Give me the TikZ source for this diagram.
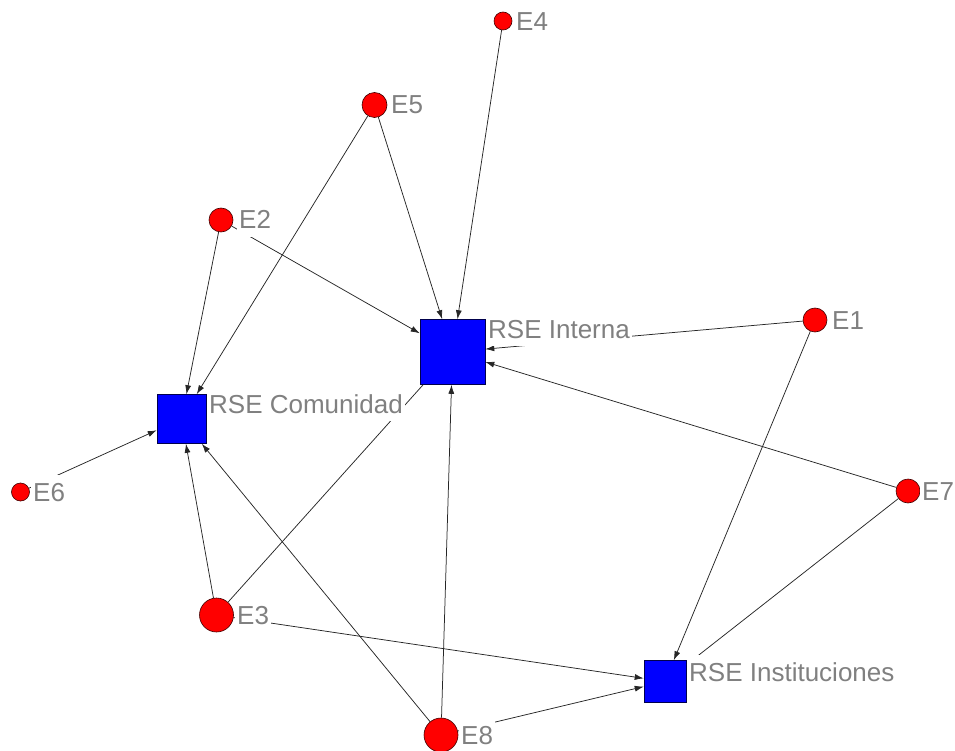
\documentclass[tikz,border=0pt]{standalone}
\usepackage{fontspec}
\setmainfont{Liberation Sans}
\usetikzlibrary{arrows.meta}
\definecolor{lblgray}{RGB}{128,128,128}
\definecolor{rseblue}{RGB}{0,0,255}
\definecolor{actred}{RGB}{255,0,0}

\begin{document}
\begin{tikzpicture}[x=1pt,y=-1pt,
    actor/.style={circle,fill=actred,draw=black!75!red,line width=0.6pt,inner sep=0pt},
    rse/.style={rectangle,fill=rseblue,draw=black!70!blue,line width=0.6pt,inner sep=0pt},
    tie/.style={draw=black!85,line width=0.75pt,-{Latex[length=9pt,width=6pt]}},
    lbl/.style={anchor=base west,fill=white,text=lblgray,inner sep=2pt,
        text height=24pt,text depth=6pt,font=\fontsize{26}{30}\selectfont}]
    \useasboundingbox (0,0) rectangle (955,751);

    % actors
    \node[actor,minimum size=18pt] (e4) at (503,21) {};
    \node[actor,minimum size=25pt] (e5) at (374.5,105) {};
    \node[actor,minimum size=24pt] (e2) at (221,220) {};
    \node[actor,minimum size=24pt] (e1) at (815,320) {};
    \node[actor,minimum size=18pt] (e6) at (20.5,492) {};
    \node[actor,minimum size=24pt] (e7) at (908,491) {};
    \node[actor,minimum size=34pt] (e3) at (216.5,615) {};
    \node[actor,minimum size=34pt] (e8) at (441,735) {};

    % RSE nodes
    \node[rse,minimum size=65pt] (interna) at (452.5,352) {};
    \node[rse,minimum size=49pt] (comunidad) at (181.5,419) {};
    \node[rse,minimum size=42pt] (instituciones) at (665,681.5) {};

    % ties
    \draw[tie] (e4) -- (interna);
    \draw[tie] (e5) -- (interna);
    \draw[tie] (e5) -- (comunidad);
    \draw[tie] (e2) -- (interna);
    \draw[tie] (e2) -- (comunidad);
    \draw[tie] (e1) -- (interna);
    \draw[tie] (e1) -- (instituciones);
    \draw[tie] (e7) -- (interna);
    \draw[tie] (e7) -- (instituciones);
    \draw[tie] (e6) -- (comunidad);
    \draw[tie] (e3) -- (comunidad);
    \draw[tie,-] (e3) -- (interna);
    \draw[tie] (e3) -- (instituciones);
    \draw[tie] (e8) -- (interna);
    \draw[tie] (e8) -- (comunidad);
    \draw[tie] (e8) -- (instituciones);

    % labels
    \node[lbl] (e4l) at (514,31) {E4};
    \node[lbl] (e5l) at (389,114) {E5};
    \node[lbl] (e2l) at (237,229) {E2};
    \node[lbl] (e1l) at (830,329) {E1};
    \node[lbl] (e6l) at (31,501) {E6};
    \node[lbl] (e7l) at (920,500) {E7};
    \node[lbl] (e3l) at (235,624) {E3};
    \node[lbl] (e8l) at (459,744) {E8};
    \node[lbl] (internal) at (486,338) {RSE Interna};
    \node[lbl] (comunidadl) at (207,413) {RSE Comunidad};
    \node[lbl] (institucionesl) at (687,681) {RSE Instituciones};
\end{tikzpicture}
\end{document}
